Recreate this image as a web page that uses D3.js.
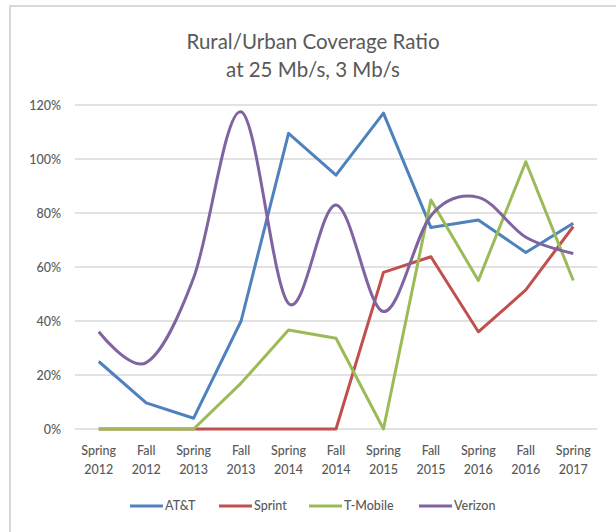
<!DOCTYPE html>
<html>
<head>
<meta charset="utf-8">
<script src="https://cdn.jsdelivr.net/npm/d3@7"></script>
<style>
  body { margin: 0; background: #fff; }
  text { font-family: Lato, "Open Sans", sans-serif; fill: #595959; }
</style>
</head>
<body>
<div id="chart"></div>
<script>
// chart size
var svgWidth = 616;
var svgHeight = 532;

// categories and series values (ratio in %)
var seasons = ["Spring", "Fall", "Spring", "Fall", "Spring", "Fall", "Spring", "Fall", "Spring", "Fall", "Spring"];
var years = ["2012", "2012", "2013", "2013", "2014", "2014", "2015", "2015", "2016", "2016", "2017"];
var att = [25, 9.7, 4, 40, 109.5, 94, 117, 74.6, 77.4, 65.4, 76.2];
var sprint = [0, 0, 0, 0, 0, 0, 58, 63.8, 36, 51.5, 75];
var tmobile = [0, 0, 0, 17, 36.7, 33.6, 0, 84.8, 55, 99, 55];
var verizon = [36, 24.6, 56, 117.5, 46.5, 83, 43.5, 79, 85.8, 71, 65];
var yTicks = [0, 20, 40, 60, 80, 100, 120];
var seriesNames = ["AT&T", "Sprint", "T-Mobile", "Verizon"];
var seriesColors = ["#4F81BD", "#C0504D", "#9BBB59", "#8064A2"];

var categories = seasons.map((s, i) => s + " " + years[i]);

var svg = d3.select("#chart").append("svg")
  .attr("width", svgWidth).attr("height", svgHeight);

// outer frame (top and left only visible)
svg.append("line").attr("x1", 9).attr("x2", svgWidth).attr("y1", 6).attr("y2", 6)
  .attr("stroke", "#d9d9d9").attr("stroke-width", 2);
svg.append("line").attr("x1", 10).attr("x2", 10).attr("y1", 6).attr("y2", svgHeight)
  .attr("stroke", "#d9d9d9").attr("stroke-width", 2);

// scales
var x = d3.scalePoint().domain(categories).range([75, 597]).padding(0.5);
var y = d3.scaleLinear().domain([0, 120]).range([429, 105]);

// gridlines
svg.append("g").selectAll("line").data(yTicks).enter().append("line")
  .attr("x1", 75).attr("x2", 597)
  .attr("y1", d => y(d)).attr("y2", d => y(d))
  .attr("stroke", "#d9d9d9").attr("stroke-width", 1.3);

// y axis labels
var yAxis = d3.axisLeft(y).tickValues(yTicks).tickFormat(d => d + "%").tickSize(0).tickPadding(0);
var yG = svg.append("g").attr("transform", "translate(61,0)").call(yAxis);
yG.select(".domain").remove();
yG.selectAll("text").attr("font-size", "12.5px").style("font-family", "Lato, sans-serif")
  .attr("fill", "#595959").attr("font-weight", 500);

// x axis labels (two lines)
var xG = svg.append("g");
categories.forEach(function(c, i) {
  var t = xG.append("text").attr("text-anchor", "middle").attr("font-size", "12.5px").attr("font-weight", 500);
  t.append("tspan").attr("x", x(c)).attr("y", 455).text(seasons[i]);
  t.append("tspan").attr("x", x(c)).attr("y", 474).text(years[i]);
});

// series lines
var allSeries = [att, sprint, tmobile, verizon];
allSeries.forEach(function(vals, k) {
  var line = d3.line()
    .x((d, i) => x(categories[i]))
    .y(d => y(d))
    .curve(k === 3 ? d3.curveCardinal.tension(0) : d3.curveLinear);
  svg.append("path").datum(vals)
    .attr("d", line)
    .attr("fill", "none")
    .attr("stroke", seriesColors[k])
    .attr("stroke-width", 3)
    .attr("stroke-linejoin", "round");
});

// title
var title = svg.append("text").attr("text-anchor", "middle").attr("font-size", "20.5px");
title.append("tspan").attr("x", 313).attr("y", 49).text("Rural/Urban Coverage Ratio");
title.append("tspan").attr("x", 313).attr("y", 77).text("at 25 Mb/s, 3 Mb/s");

// legend
var legendX = [130, 219, 309, 419];
var legend = svg.append("g");
seriesNames.forEach(function(name, k) {
  legend.append("line")
    .attr("x1", legendX[k]).attr("x2", legendX[k] + 33)
    .attr("y1", 506).attr("y2", 506)
    .attr("stroke", seriesColors[k]).attr("stroke-width", 3);
  legend.append("text")
    .attr("x", legendX[k] + 35).attr("y", 510)
    .attr("font-size", "12.5px").attr("font-weight", 500)
    .text(name);
});
</script>
</body>
</html>
